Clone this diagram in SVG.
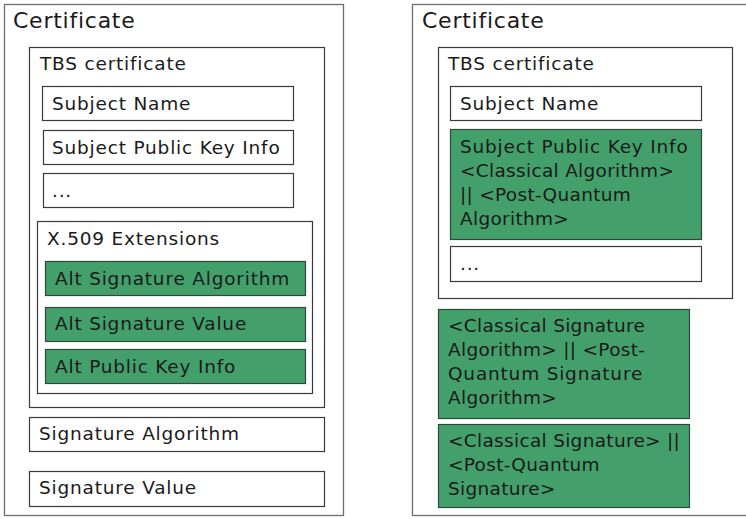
<svg xmlns="http://www.w3.org/2000/svg" width="746" height="519" viewBox="0 0 746 519">
  <style>
    text { font-family: "DejaVu Sans", "Liberation Sans", sans-serif; fill: #1a1a1a; }
    .title { font-size: 22px; letter-spacing: 0.75px; }
    .label { font-size: 18.5px; letter-spacing: 0.8px; }
    .label.br { letter-spacing: 0.3px; }
    .outer { fill: #ffffff; stroke: #6e6e6e; stroke-width: 1.3; }
    .box { fill: #ffffff; stroke: #3a3a3a; stroke-width: 1.2; }
    .alt { fill: #43a06b; stroke: #2e4a38; stroke-width: 1.2; }
  </style>
  <rect width="746" height="519" fill="#ffffff"/>

  <!-- classical certificate with alternative-signature extensions -->
  <g id="left-certificate">
    <rect class="outer" x="4.5" y="4.5" width="339" height="511"/>
    <text class="title" x="13" y="28">Certificate</text>
  </g>
  <g id="left-tbs">
    <rect class="box" x="29.5" y="47.5" width="295" height="360"/>
    <text class="label" x="40" y="70">TBS certificate</text>
  </g>
  <g id="left-subject-name">
    <rect class="box" x="42.5" y="86.5" width="251" height="34"/>
    <text class="label" x="52" y="110">Subject Name</text>
  </g>
  <g id="left-spki">
    <rect class="box" x="43.5" y="130.5" width="250" height="34"/>
    <text class="label" x="52" y="154">Subject Public Key Info</text>
  </g>
  <g id="left-ellipsis">
    <rect class="box" x="43.5" y="173.5" width="250" height="34"/>
    <text class="label" x="52" y="197">...</text>
  </g>
  <g id="left-extensions">
    <rect class="box" x="37.5" y="221.5" width="275" height="172"/>
    <text class="label" x="47" y="245">X.509 Extensions</text>
  </g>
  <g id="alt-signature-algorithm">
    <rect class="alt" x="45.5" y="261.5" width="260" height="34"/>
    <text class="label" x="55" y="285">Alt Signature Algorithm</text>
  </g>
  <g id="alt-signature-value">
    <rect class="alt" x="45.5" y="307.5" width="260" height="34"/>
    <text class="label" x="55" y="330">Alt Signature Value</text>
  </g>
  <g id="alt-public-key-info">
    <rect class="alt" x="45.5" y="349.5" width="260" height="34"/>
    <text class="label" x="55" y="373">Alt Public Key Info</text>
  </g>
  <g id="left-signature-algorithm">
    <rect class="box" x="29.5" y="417.5" width="295" height="34"/>
    <text class="label" x="39" y="440">Signature Algorithm</text>
  </g>
  <g id="left-signature-value">
    <rect class="box" x="29.5" y="471.5" width="295" height="35"/>
    <text class="label" x="39" y="494">Signature Value</text>
  </g>

  <!-- composite certificate -->
  <g id="right-certificate">
    <rect class="outer" x="412.5" y="4.5" width="340" height="511"/>
    <text class="title" x="422" y="28">Certificate</text>
  </g>
  <g id="right-tbs">
    <rect class="box" x="438.5" y="47.5" width="294" height="251"/>
    <text class="label" x="448" y="70">TBS certificate</text>
  </g>
  <g id="right-subject-name">
    <rect class="box" x="450.5" y="86.5" width="251" height="34"/>
    <text class="label" x="460" y="110">Subject Name</text>
  </g>
  <g id="right-spki">
    <rect class="alt" x="450.5" y="129.5" width="251" height="110"/>
    <text class="label" x="460" y="153">Subject Public Key Info</text>
    <text class="label br" x="460" y="177">&lt;Classical Algorithm&gt;</text>
    <text class="label br" x="460" y="201">|| &lt;Post-Quantum</text>
    <text class="label br" x="460" y="225">Algorithm&gt;</text>
  </g>
  <g id="right-ellipsis">
    <rect class="box" x="450.5" y="246.5" width="251" height="35"/>
    <text class="label" x="460" y="270">...</text>
  </g>
  <g id="composite-signature-algorithm">
    <rect class="alt" x="438.5" y="309.5" width="251" height="109"/>
    <text class="label br" x="448" y="332">&lt;Classical Signature</text>
    <text class="label br" x="448" y="356">Algorithm&gt; || &lt;Post-</text>
    <text class="label" x="448" y="380">Quantum Signature</text>
    <text class="label br" x="448" y="404">Algorithm&gt;</text>
  </g>
  <g id="composite-signature-value">
    <rect class="alt" x="438.5" y="424.5" width="251" height="83"/>
    <text class="label br" x="448" y="447">&lt;Classical Signature&gt; ||</text>
    <text class="label br" x="448" y="471">&lt;Post-Quantum</text>
    <text class="label br" x="448" y="495">Signature&gt;</text>
  </g>
</svg>
